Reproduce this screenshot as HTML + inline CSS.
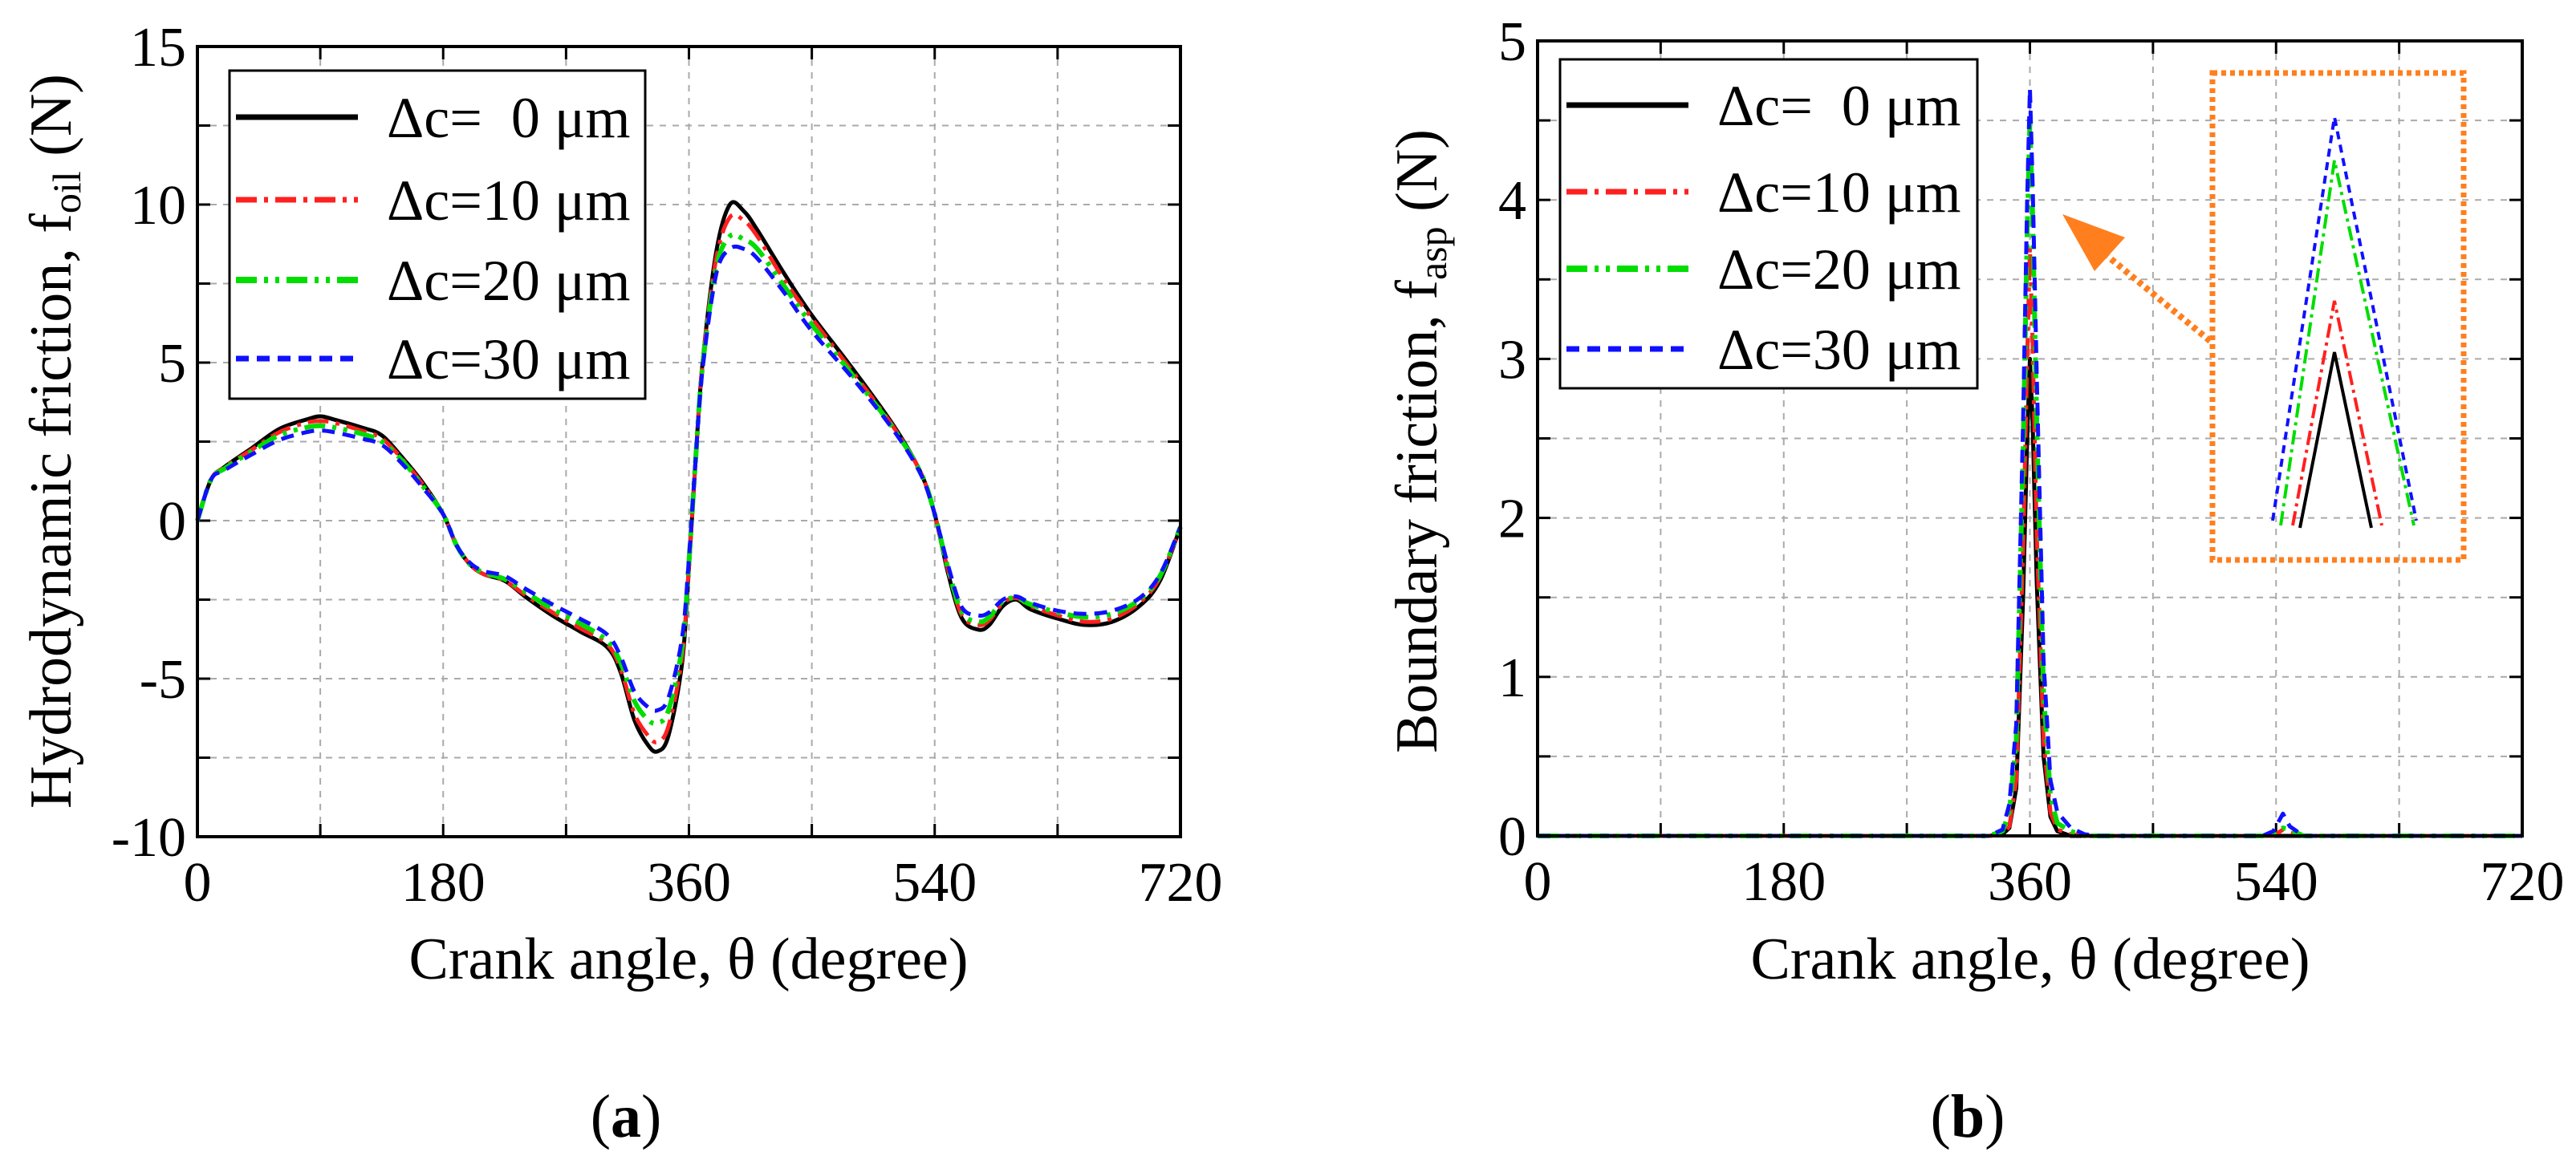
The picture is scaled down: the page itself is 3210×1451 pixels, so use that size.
<!DOCTYPE html>
<html><head><meta charset="utf-8">
<style>
html,body{margin:0;padding:0;background:#fff;}
svg{display:block;font-family:"Liberation Serif",serif;}
</style></head>
<body>
<svg id="fig" width="3210" height="1451" viewBox="0 0 3210 1451" xmlns="http://www.w3.org/2000/svg">
<rect width="3210" height="1451" fill="#fff"/>
<g id="pa"></g>
<g id="pb"></g>
</svg>
<script>
// ---- Panel (a) data ----
const anglesA = [0,10,20,40,60,80,90,100,120,135,150,165,180,190,200,210,225,240,260,280,300,310,320,330,337,345,355,360,365,370,380,390,400,410,430,450,480,510,530,540,550,560,572,580,590,600,610,630,650,670,690,705,720];
const oil0  = [0,1.3,1.7,2.3,2.9,3.2,3.3,3.2,2.95,2.7,2.0,1.2,0.2,-0.8,-1.4,-1.7,-1.9,-2.4,-3.0,-3.5,-4.0,-4.8,-6.3,-7.1,-7.3,-6.8,-4.5,-1.5,2.0,5.0,8.5,10.0,9.8,9.2,7.8,6.5,4.8,3.0,1.5,0.2,-1.7,-3.1,-3.45,-3.3,-2.7,-2.5,-2.8,-3.1,-3.3,-3.2,-2.7,-1.9,-0.2];
const oil10 = [0,1.3,1.7,2.25,2.8,3.1,3.15,3.1,2.85,2.6,1.95,1.15,0.2,-0.8,-1.4,-1.7,-1.9,-2.35,-2.9,-3.4,-3.9,-4.7,-6.1,-6.8,-7.0,-6.5,-4.3,-1.4,2.0,5.0,8.3,9.6,9.5,9.0,7.6,6.4,4.7,2.95,1.5,0.2,-1.6,-3.0,-3.3,-3.15,-2.6,-2.45,-2.7,-3.0,-3.2,-3.1,-2.6,-1.8,-0.2];
const oil20 = [0,1.3,1.65,2.2,2.7,2.95,3.0,2.95,2.75,2.5,1.9,1.1,0.2,-0.8,-1.4,-1.65,-1.85,-2.25,-2.8,-3.25,-3.8,-4.5,-5.7,-6.3,-6.4,-6.0,-4.0,-1.3,2.0,4.9,8.0,9.0,8.9,8.6,7.4,6.2,4.6,2.9,1.5,0.2,-1.55,-2.9,-3.2,-3.05,-2.55,-2.45,-2.65,-2.9,-3.05,-2.95,-2.5,-1.75,-0.2];
const oil30 = [0,1.3,1.6,2.1,2.55,2.8,2.85,2.8,2.6,2.4,1.8,1.05,0.2,-0.8,-1.35,-1.6,-1.75,-2.15,-2.65,-3.1,-3.6,-4.3,-5.4,-5.9,-6.0,-5.6,-3.7,-1.2,2.0,4.8,7.8,8.6,8.6,8.3,7.2,6.0,4.5,2.85,1.45,0.2,-1.45,-2.75,-3.0,-2.9,-2.5,-2.4,-2.6,-2.85,-2.95,-2.85,-2.45,-1.7,-0.2];
const yTicksA = [15,10,5,0,-5,-10];
const xTicks = [0,180,360,540,720];
// ---- Panel (b) data ----
const anglesB = [0,330,340,345,350,355,358,360,362,365,370,375,380,390,400,410,530,538,545,550,560,720];
const asp0  = [0,0,0.01,0.05,0.3,1.5,2.5,3.0,2.6,1.6,0.5,0.12,0.03,0,0,0,0,0,0,0,0,0];
const asp10 = [0,0,0.01,0.06,0.35,1.8,3.0,3.7,3.1,1.9,0.6,0.15,0.04,0.01,0,0,0,0,0.04,0.02,0,0];
const asp20 = [0,0,0.03,0.15,0.6,2.4,3.8,4.5,3.9,2.6,0.9,0.25,0.08,0.03,0,0,0,0.01,0.05,0.04,0,0];
const asp30 = [0,0,0.04,0.2,0.7,2.6,4.0,4.7,4.1,2.9,1.1,0.35,0.15,0.05,0.01,0,0,0.03,0.14,0.06,0,0];
const yTicksB = [5,4,3,2,1,0];
const legendLabels = ["\u0394c=  0 \u03bcm","\u0394c=10 \u03bcm","\u0394c=20 \u03bcm","\u0394c=30 \u03bcm"];

const NS="http://www.w3.org/2000/svg";
function mk(parent,tag,attrs){const e=document.createElementNS(NS,tag);for(const k in attrs)e.setAttribute(k,attrs[k]);parent.appendChild(e);return e;}
const styles=[
 {stroke:"#000",dash:"",w:5},
 {stroke:"#ff2020",dash:"26 9 5 9",w:5},
 {stroke:"#00dd00",dash:"26 9 5 9 5 9",w:6},
 {stroke:"#1010ff",dash:"16 10",w:5}];
const names=["series-dc-0","series-dc-10","series-dc-20","series-dc-30"];

function smoothPath(pts){
  let d="M"+pts[0][0].toFixed(1)+","+pts[0][1].toFixed(1);
  for(let i=0;i<pts.length-1;i++){
    const p0=pts[Math.max(0,i-1)],p1=pts[i],p2=pts[i+1],p3=pts[Math.min(pts.length-1,i+2)];
    const c1=[p1[0]+(p2[0]-p0[0])/6,p1[1]+(p2[1]-p0[1])/6];
    const c2=[p2[0]-(p3[0]-p1[0])/6,p2[1]-(p3[1]-p1[1])/6];
    d+=" C"+c1[0].toFixed(1)+","+c1[1].toFixed(1)+" "+c2[0].toFixed(1)+","+c2[1].toFixed(1)+" "+p2[0].toFixed(1)+","+p2[1].toFixed(1);
  }
  return d;
}

function panel(g,cfg){
  const {L,R,T,B,ymin,ymax,yTicks,yMinor,series,angles,smooth,legend,ylabel,ylabSub,ylabX,ylabAfter,xlabX,capX,cap}=cfg;
  const sx=v=>L+(v/720)*(R-L);
  const sy=v=>B-(v-ymin)/(ymax-ymin)*(B-T);
  // grid
  const grid=mk(g,"g",{});
  
  
  for(let a=90;a<720;a+=90){mk(grid,"line",{x1:sx(a),x2:sx(a),y1:T,y2:B,stroke:"#aaa","stroke-width":2,"stroke-dasharray":"8 8"});}
  for(let v=ymin+yMinor;v<ymax-1e-9;v+=yMinor){mk(grid,"line",{x1:L,x2:R,y1:sy(v),y2:sy(v),stroke:"#aaa","stroke-width":2,"stroke-dasharray":"8 8"});}
  // ticks
  for(let a=90;a<720;a+=90){mk(g,"line",{x1:sx(a),x2:sx(a),y1:B,y2:B-16,stroke:"#000","stroke-width":3});mk(g,"line",{x1:sx(a),x2:sx(a),y1:T,y2:T+16,stroke:"#000","stroke-width":3});}
  for(let v=ymin+yMinor;v<ymax-1e-9;v+=yMinor){mk(g,"line",{x1:L,x2:L+16,y1:sy(v),y2:sy(v),stroke:"#000","stroke-width":3});mk(g,"line",{x1:R,x2:R-16,y1:sy(v),y2:sy(v),stroke:"#000","stroke-width":3});}
  // series
  series.forEach((vals,i)=>{
    const pts=angles.map((a,j)=>[sx(a),sy(vals[j])]);
    const p=mk(g,"path",{d:smooth?smoothPath(pts):("M"+pts.map(q=>q[0].toFixed(1)+","+q[1].toFixed(1)).join(" L")),fill:"none",stroke:styles[i].stroke,"stroke-width":styles[i].w,"stroke-dasharray":styles[i].dash,"stroke-linejoin":"round"});
    
    
  });
  // frame
  const fr=mk(g,"rect",{x:L,y:T,width:R-L,height:B-T,fill:"none",stroke:"#000","stroke-width":4});
  
  
  // tick labels
  yTicks.forEach(v=>{const t=mk(g,"text",{x:L-14,y:sy(v)+24,"font-size":70,"text-anchor":"end"});t.textContent=v;
    
    });
  xTicks.forEach(a=>{const t=mk(g,"text",{x:sx(a),y:B+80,"font-size":70,"text-anchor":"middle"});t.textContent=a;
    
    });
  // legend
  const lg=mk(g,"g",{});
  
  
  mk(lg,"rect",{x:legend.x,y:legend.y,width:legend.w,height:legend.h,fill:"#fff",stroke:"#000","stroke-width":3});
  legend.rows.forEach((ry,i)=>{
    const e=mk(lg,"g",{});
    
    
    mk(e,"line",{x1:legend.x+8,x2:legend.x+160,y1:ry,y2:ry,stroke:styles[i].stroke,"stroke-width":styles[i].w+2,"stroke-dasharray":styles[i].dash});
    const t=mk(e,"text",{x:legend.x+196,y:ry+25,"font-size":72,"xml:space":"preserve"});
    t.setAttribute("style","white-space:pre");
    t.textContent=legendLabels[i];
  });
  // axis titles
  const xt=mk(g,"text",{x:xlabX,y:1220,"font-size":74,"text-anchor":"middle"});
  xt.textContent="Crank angle, \u03b8 (degree)";
  
  
  const yt=mk(g,"text",{x:0,y:0,"font-size":74,"text-anchor":"middle",transform:"translate("+ylabX+",550) rotate(-90)"});
  
  
  const s1=mk(yt,"tspan",{});s1.textContent=ylabel+" f";
  const s2=mk(yt,"tspan",{"font-size":50,dy:12});s2.textContent=ylabSub;
  const s3=mk(yt,"tspan",{dy:-12});s3.textContent=" (N)";
  const c=mk(g,"text",{x:capX,y:1417,"font-size":76,"text-anchor":"middle"});
  
  
  const c1=mk(c,"tspan",{});c1.textContent="(";
  const c2=mk(c,"tspan",{"font-weight":"bold"});c2.textContent=cap;
  const c3=mk(c,"tspan",{});c3.textContent=")";
}

panel(document.getElementById("pa"),{L:246,R:1471,T:58,B:1043,ymin:-10,ymax:15,yTicks:yTicksA,yMinor:2.5,
 series:[oil0,oil10,oil20,oil30],angles:anglesA,smooth:true,
 legend:{x:286,y:88,w:518,h:409,rows:[146,249,349,447]},
 ylabel:"Hydrodynamic friction,",ylabSub:"oil",ylabX:88,xlabX:858,capX:780,cap:"a"});
panel(document.getElementById("pb"),{L:1916,R:3143,T:51,B:1042,ymin:0,ymax:5,yTicks:yTicksB,yMinor:0.5,
 series:[asp0,asp10,asp20,asp30],angles:anglesB,smooth:false,
 legend:{x:1944,y:74,w:520,h:410,rows:[131,239,335,435]},
 ylabel:"Boundary friction,",ylabSub:"asp",ylabX:1790,xlabX:2530,capX:2452,cap:"b"});

// inset zoom illustration
const pb=document.getElementById("pb");
const ins=mk(pb,"g",{});


mk(ins,"rect",{x:2757,y:91,width:313,height:607,fill:"none",stroke:"#ff7f1e","stroke-width":7,"stroke-dasharray":"6 5"});
const apex=[[2866,2909,2955,439,658],[2857,2909,2968,375,655],[2842,2909,3008,200,655],[2832,2909,3011,146,649]];
apex.forEach((p,i)=>{mk(ins,"path",{d:`M${p[0]},${p[4]} L${p[1]},${p[3]} L${p[2]},${p[4]}`,fill:"none",stroke:styles[i].stroke,"stroke-width":4,"stroke-dasharray":i==0?"":(i==3?"10 7":"18 6 4 6")});});
const ar=mk(pb,"g",{});


mk(ar,"line",{x1:2754,y1:425,x2:2615,y2:310,stroke:"#ff7f1e","stroke-width":8,"stroke-dasharray":"6 5"});
mk(ar,"polygon",{points:"2570,267 2648,296 2610,338",fill:"#ff7f1e"});
</script>
</body></html>
